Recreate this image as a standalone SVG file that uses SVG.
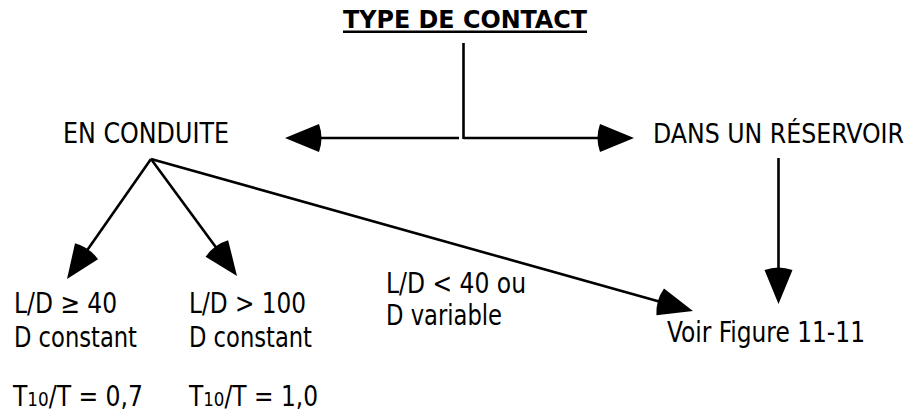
<svg xmlns="http://www.w3.org/2000/svg" width="912" height="413" viewBox="0 0 912 413">
<style>
  .t { font-family: "DejaVu Sans Condensed", "DejaVu Sans", sans-serif; font-stretch: condensed; font-size: 28px; fill: #000; }
  .title { font-family: "DejaVu Sans Condensed", "DejaVu Sans", sans-serif; font-stretch: condensed; font-weight: bold; font-size: 25px; fill: #000; }
  .sub { font-size: 20px; }
  .c { stroke: #000; stroke-width: 2.6; fill: none; }
</style>
<defs>
  <marker id="ah" markerUnits="userSpaceOnUse" viewBox="-30 -16 44 32" markerWidth="44" markerHeight="32" refX="0" refY="0" orient="auto">
    <path d="M12,0 L-22,-14 Q-27,0 -22,14 Z" fill="#000"/>
  </marker>
</defs>
<rect width="912" height="413" fill="#fff"/>
<g id="title">
  <text class="title" x="343" y="28" textLength="244" lengthAdjust="spacingAndGlyphs">TYPE DE CONTACT</text>
  <rect x="343" y="30.5" width="244" height="2.5" fill="#000"/>
</g>
<g id="en-conduite">
  <text class="t" x="63" y="143" textLength="166" lengthAdjust="spacingAndGlyphs">EN CONDUITE</text>
</g>
<g id="reservoir">
  <text class="t" x="653" y="143" font-size="26" textLength="251" lengthAdjust="spacingAndGlyphs" style="font-size:26px">DANS UN RÉSERVOIR</text>
</g>
<g id="case1">
  <text class="t" x="14" y="313" textLength="103" lengthAdjust="spacingAndGlyphs">L/D ≥ 40</text>
  <text class="t" x="14" y="347" textLength="123" lengthAdjust="spacingAndGlyphs">D constant</text>
  <text class="t" x="13" y="406" textLength="130" lengthAdjust="spacingAndGlyphs">T<tspan class="sub">10</tspan>/T = 0,7</text>
</g>
<g id="case2">
  <text class="t" x="189" y="313" textLength="117" lengthAdjust="spacingAndGlyphs">L/D &gt; 100</text>
  <text class="t" x="189" y="347" textLength="123" lengthAdjust="spacingAndGlyphs">D constant</text>
  <text class="t" x="189" y="406" textLength="129" lengthAdjust="spacingAndGlyphs">T<tspan class="sub">10</tspan>/T = 1,0</text>
</g>
<g id="case3">
  <text class="t" x="386" y="293" textLength="140" lengthAdjust="spacingAndGlyphs">L/D &lt; 40 ou</text>
  <text class="t" x="386" y="325" textLength="116" lengthAdjust="spacingAndGlyphs">D variable</text>
</g>
<g id="voir">
  <text class="t" x="667" y="342" textLength="198" lengthAdjust="spacingAndGlyphs">Voir Figure 11-11</text>
</g>
<g id="connectors">
  <path class="c" d="M463.5,43 V139"/>
  <path class="c" d="M459,138 H297" marker-end="url(#ah)"/>
  <path class="c" d="M463.5,138 H622" marker-end="url(#ah)"/>
  <path class="c" d="M151,159 L73.9,269.2" marker-end="url(#ah)"/>
  <path class="c" d="M151,159 L229.9,266.3" marker-end="url(#ah)"/>
  <path class="c" d="M151,159 L681.4,307.8" marker-end="url(#ah)"/>
  <path class="c" d="M778.5,158 V292" marker-end="url(#ah)"/>
</g>
</svg>
